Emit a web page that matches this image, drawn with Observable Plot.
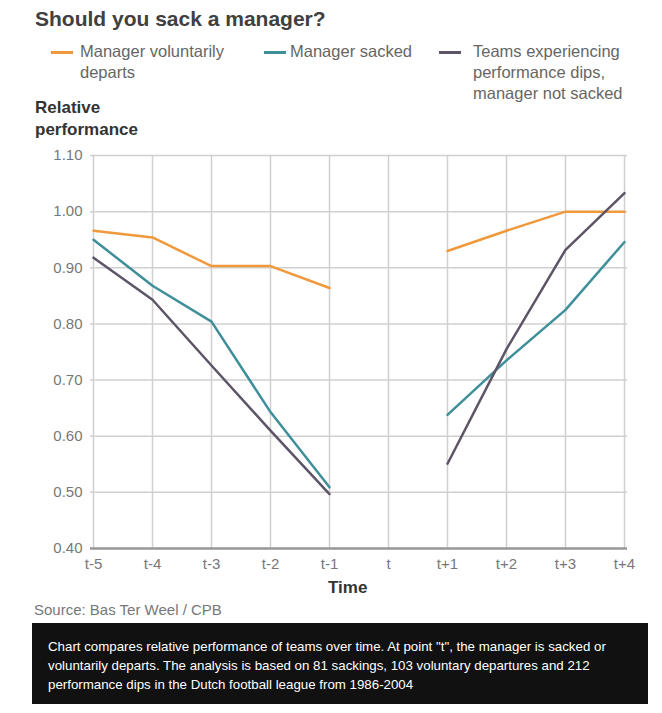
<!DOCTYPE html>
<html>
<head>
<meta charset="utf-8">
<script src="https://cdn.jsdelivr.net/npm/d3@7"></script>
<script src="https://cdn.jsdelivr.net/npm/@observablehq/plot@0.6"></script>
<style>
  html, body { margin:0; padding:0; background:#fff; }
  body { width:662px; height:713px; position:relative; overflow:hidden; font-family:"Liberation Sans", Arial, Helvetica, sans-serif; }
  #chart { position:absolute; left:0; top:0; }
  .abs { position:absolute; }
  #title { left:35px; top:7px; font-size:21px; font-weight:bold; color:#404040; }
  .leg { top:41px; font-size:16.5px; color:#666; line-height:21px; }
  .sw { position:absolute; top:10px; width:22px; height:3px; }
  #ylab { left:35px; top:97px; font-size:17px; font-weight:bold; color:#333; line-height:22px; }
  #xlab { left:328px; top:578px; font-size:17px; font-weight:bold; color:#333; }
  #source { left:34px; top:601px; font-size:15px; color:#777; }
  #note { left:32px; top:623px; width:616px; height:81px; background:#111; color:#fff; font-size:13.3px; line-height:19px; box-sizing:border-box; padding:14px 16px 0 16px; }
</style>
</head>
<body>
<div id="chart"></div>
<div id="title" class="abs">Should you sack a manager?</div>
<div id="legend"></div>
<div id="ylab" class="abs">Relative<br>performance</div>
<div id="xlab" class="abs">Time</div>
<div id="source" class="abs">Source: Bas Ter Weel / CPB</div>
<div id="note" class="abs">Chart compares relative performance of teams over time. At point "t", the manager is sacked or voluntarily departs. The analysis is based on 81 sackings, 103 voluntary departures and 212 performance dips in the Dutch football league from 1986-2004</div>
<script>
const periods = ["t-5","t-4","t-3","t-2","t-1","t","t+1","t+2","t+3","t+4"];
const voluntary = [0.966, 0.954, 0.903, 0.903, 0.864, null, 0.930, 0.966, 1.000, 1.000];
const sacked    = [0.950, 0.868, 0.804, 0.643, 0.509, null, 0.638, 0.735, 0.825, 0.946];
const dips      = [0.918, 0.843, 0.726, 0.610, 0.497, null, 0.551, 0.755, 0.932, 1.033];
const seriesNames = ["Manager voluntarily departs", "Manager sacked", "Teams experiencing performance dips, manager not sacked"];
const legendLabels = ["Manager voluntarily<br>departs", "Manager sacked", "Teams experiencing<br>performance dips,<br>manager not sacked"];
const seriesColors = ["#f0993c", "#3f8f9b", "#5e5468"];
const yTicks = [0.4, 0.5, 0.6, 0.7, 0.8, 0.9, 1.0, 1.1];

const rows = [];
[voluntary, sacked, dips].forEach((vals, si) => {
  vals.forEach((v, i) => rows.push({series: seriesNames[si], period: periods[i], value: v}));
});

const chart = Plot.plot({
  width: 662,
  height: 600,
  marginTop: 155,
  marginBottom: 52,
  marginLeft: 90,
  marginRight: 35,
  style: {fontFamily: "'Liberation Sans', Arial, sans-serif", fontSize: "15px", background: "transparent", overflow: "visible"},
  x: {type: "point", domain: periods, padding: 0, label: null},
  y: {domain: [0.4, 1.1], label: null},
  color: {domain: seriesNames, range: seriesColors},
  marks: [
    Plot.gridX(periods, {stroke: "#d0d0d0", strokeOpacity: 1, strokeWidth: 1.5}),
    Plot.gridY(yTicks, {stroke: "#d0d0d0", strokeOpacity: 1, strokeWidth: 1.5}),
    Plot.axisY(yTicks, {tickSize: 0, tickPadding: 8, tickFormat: d3.format(".2f"), fill: "#777", fontSize: 15, label: null}),
    Plot.axisX(periods, {tickSize: 0, tickPadding: 10, fill: "#777", fontSize: 15, label: null}),
    Plot.ruleY([0.4], {stroke: "#999", strokeWidth: 2.5}),
    Plot.line(rows, {x: "period", y: "value", z: "series", stroke: "series", strokeWidth: 2.5})
  ]
});
document.getElementById("chart").appendChild(chart);

const legendPos = [{line: 51, text: 80}, {line: 264, text: 290}, {line: 439, text: 473}];
const legend = document.getElementById("legend");
seriesNames.forEach((s, i) => {
  const sw = document.createElement("div");
  sw.className = "sw";
  sw.style.left = legendPos[i].line + "px";
  sw.style.top = "51px";
  sw.style.background = seriesColors[i];
  legend.appendChild(sw);
  const t = document.createElement("div");
  t.className = "abs leg";
  t.style.left = legendPos[i].text + "px";
  t.innerHTML = legendLabels[i];
  legend.appendChild(t);
});
</script>
</body>
</html>
